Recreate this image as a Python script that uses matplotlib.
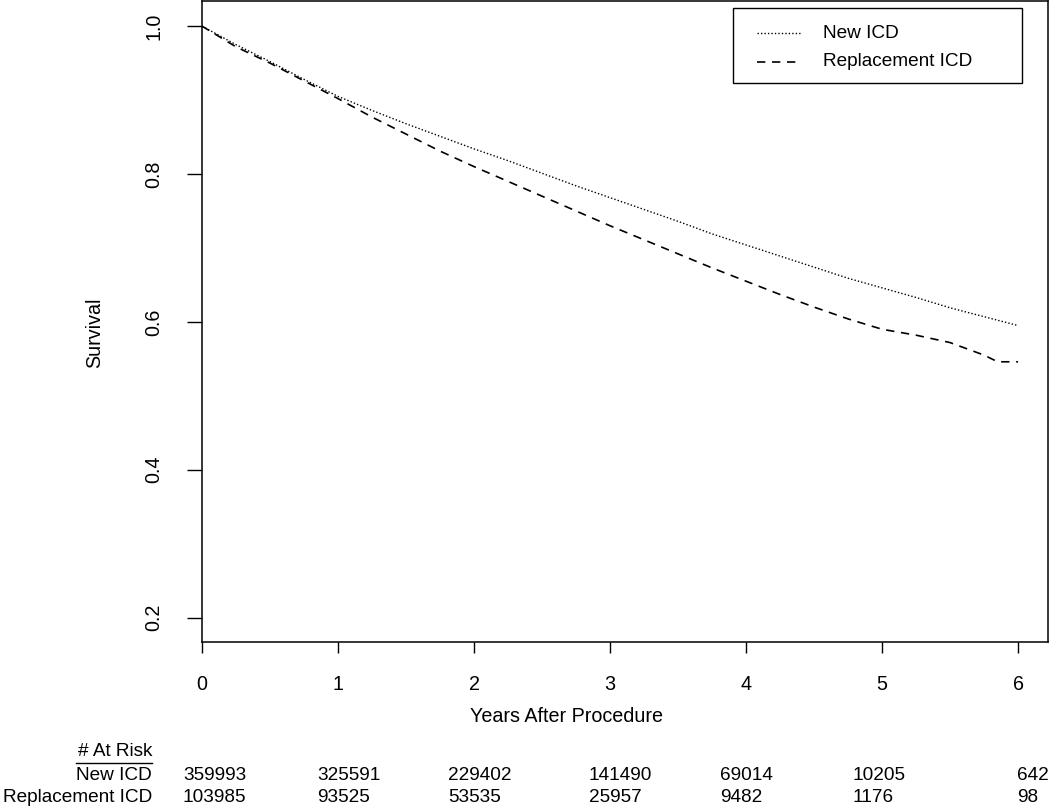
import numpy as np
import matplotlib
matplotlib.use("Agg")
import matplotlib.pyplot as plt
from matplotlib.patches import Rectangle
from matplotlib.lines import Line2D

plt.rcParams["font.family"] = ["Liberation Sans", "DejaVu Sans"]

# survival, every quarter year
years = [0, 0.25, 0.5, 0.75, 1.0, 1.25, 1.5, 1.75, 2.0, 2.25, 2.5, 2.75, 3.0,
         3.25, 3.5, 3.75, 4.0, 4.25, 4.5, 4.75, 5.0, 5.25, 5.5, 5.75, 6.0]
new_icd = [1.0, 0.975, 0.952, 0.928, 0.905, 0.886, 0.868, 0.851, 0.834, 0.818,
           0.801, 0.784, 0.768, 0.752, 0.736, 0.719, 0.704, 0.689, 0.674, 0.659,
           0.646, 0.633, 0.619, 0.607, 0.595]
repl_years = [0, 0.25, 0.5, 0.75, 1.0, 1.25, 1.5, 1.75, 2.0, 2.25, 2.5, 2.75, 3.0,
              3.25, 3.5, 3.75, 4.0, 4.25, 4.5, 4.75, 5.0, 5.25, 5.5, 5.75, 5.85, 6.0]
repl_icd = [1.0, 0.972, 0.950, 0.926, 0.902, 0.877, 0.854, 0.831, 0.810, 0.790,
            0.770, 0.750, 0.730, 0.711, 0.692, 0.673, 0.655, 0.637, 0.620, 0.604,
            0.590, 0.582, 0.572, 0.555, 0.546, 0.546]

x_ticks = [0, 1, 2, 3, 4, 5, 6]
y_ticks = [0.2, 0.4, 0.6, 0.8, 1.0]
risk_new = ["359993", "325591", "229402", "141490", "69014", "10205", "642"]
risk_repl = ["103985", "93525", "53535", "25957", "9482", "1176", "98"]
group_names = ["New ICD", "Replacement ICD"]

W, H = 1050, 811
FS = 14.2      # axis text
FS_T = 13.7    # legend and risk table


def fx(px):
    return px / W


def fy(py):
    return 1 - py / H


fig = plt.figure(figsize=(W / 100, H / 100), dpi=100)
ax = fig.add_axes([fx(202), fy(642), fx(1048) - fx(202), fy(1) - fy(642)])

ls_new = (0, (1, 1.5))
ls_repl = (0, (5, 4))
ax.plot(years, new_icd, color="black", lw=1.0, linestyle=ls_new)
ax.plot(repl_years, repl_icd, color="black", lw=1.2, linestyle=ls_repl)

ax.set_xlim(0, 6.22)
ax.set_ylim(0.167, 1.034)
ax.set_xticks(x_ticks)
ax.set_xticklabels([str(t) for t in x_ticks], fontsize=FS)
ax.set_yticks(y_ticks)
ax.set_yticklabels(["%.1f" % t for t in y_ticks], fontsize=FS, rotation=90, va="center")
ax.tick_params(axis="x", length=8, width=1, pad=16)
ax.tick_params(axis="y", length=11, width=1, pad=17)
for s in ax.spines.values():
    s.set_linewidth(1.1)

fig.text(fx(566), fy(717), "Years After Procedure", fontsize=FS, ha="center", va="center")
fig.text(fx(95), fy(333), "Survival", fontsize=FS, ha="center", va="center", rotation=90)

# legend box drawn by hand (R style)
fig.add_artist(Rectangle((fx(733), fy(83)), fx(1022) - fx(733), fy(8) - fy(83),
                         transform=fig.transFigure, fill=False, edgecolor="black", lw=1.0))
for i, (name, ls, lw) in enumerate(zip(group_names, [ls_new, ls_repl], [1.0, 1.2])):
    yy = 33 + 29 * i
    fig.add_artist(Line2D([fx(757), fx(800)], [fy(yy), fy(yy)], transform=fig.transFigure,
                          color="black", lw=lw, linestyle=ls))
    fig.text(fx(823), fy(yy), name, fontsize=FS_T, va="center", ha="left")

# numbers at risk table
fig.text(fx(152), fy(752), "# At Risk", fontsize=FS_T, ha="right", va="center")
fig.add_artist(Line2D([fx(76), fx(152)], [fy(763), fy(763)], transform=fig.transFigure,
                      color="black", lw=1.0))
fig.text(fx(152), fy(775), group_names[0], fontsize=FS_T, ha="right", va="center")
fig.text(fx(152), fy(798), group_names[1], fontsize=FS_T, ha="right", va="center")
col_left = [183, 317, 448, 589, 720, 853, 1017]
for x0, a, b in zip(col_left, risk_new, risk_repl):
    fig.text(fx(x0), fy(775), a, fontsize=FS_T, ha="left", va="center")
    fig.text(fx(x0), fy(798), b, fontsize=FS_T, ha="left", va="center")

fig.savefig("out.png", dpi=100)
